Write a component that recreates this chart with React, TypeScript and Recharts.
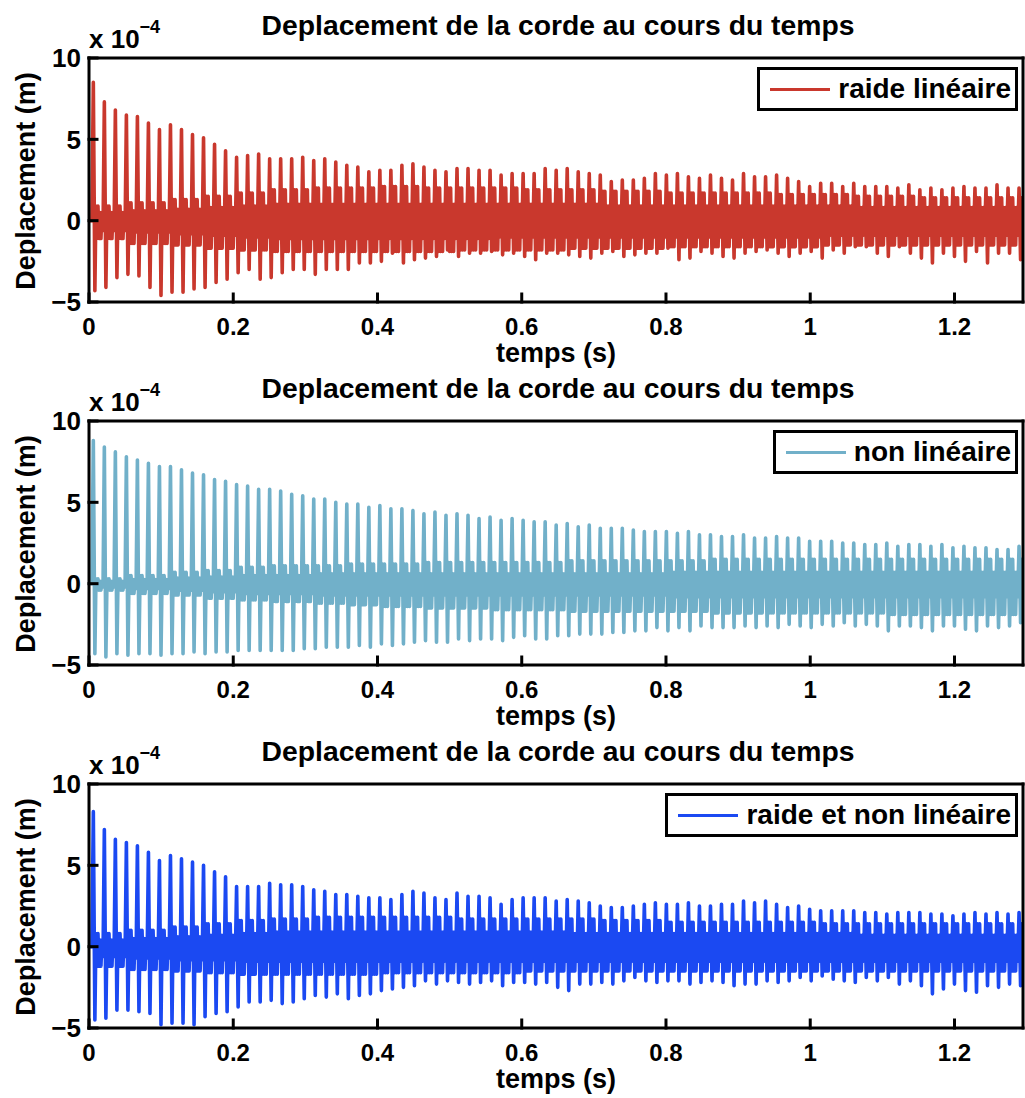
import React from 'react';
import { LineChart, Line, XAxis, YAxis, Legend } from 'recharts';

// time grid: one big spike every ~0.0153 s
const PERIOD = 0.01528;
const FIRST_PEAK = 0.006;
const BAND_STEP = 0.05; // band levels were read every 0.05 s
const CYCLE_STEPS = [0, 0.14, 0.24, 0.33, 0.42, 0.51, 0.6, 0.69, 0.78, 0.88];
const LEAD_T = [0, 0.004];
const LEAD_Y = [0, 0];

const xTicks = [0, 0.2, 0.4, 0.6, 0.8, 1, 1.2];
const yTicks = [-5, 0, 5, 10];
const X_MAX = 1.295;

// --- raide linéaire (x 1e-4 m) ---
const redPeaks = [
  8.5, 7.3, 6.8, 6.5, 6.4, 6.0, 5.6, 5.9, 5.6, 5.3, 5.1, 4.7, 4.3, 3.9, 4.0, 4.1, 3.8, 3.8, 3.8,
  3.9, 3.7, 3.8, 3.6, 3.4, 3.3, 3.0, 3.1, 3.1, 3.4, 3.5, 3.3, 3.1, 3.0, 3.2, 3.2, 3.1, 3.1, 2.8, 2.9,
  2.9, 2.9, 3.2, 3.1, 3.2, 3.0, 2.9, 2.8, 2.4,
  2.5, 2.5, 2.6, 2.9, 2.8, 2.9, 2.7, 2.6, 2.8, 2.6, 2.5, 2.9, 2.7, 2.7, 2.8, 2.6, 2.4, 2.1, 2.3,
  2.3, 2.1, 2.3, 2.1, 2.1, 2.1, 2.0, 2.2, 1.9, 2.0, 1.9, 2.0, 2.1, 2.0, 2.0, 2.2, 2.0, 2.0,
];
const redTroughs = [
  -4.3, -4.1, -3.5, -3.3, -3.4, -4.1, -4.6, -4.4, -4.4, -4.2, -4.1, -3.8, -3.6, -3.2, -3.0, -3.6, -3.5, -3.2, -3.0,
  -3.0, -3.3, -3.0, -3.0, -3.0, -2.6, -2.6, -2.5, -2.0, -2.6, -2.4, -2.3, -2.2, -1.8, -2.2, -2.0, -2.0, -1.9,
  -2.1, -2.0, -2.2, -2.4, -2.0, -2.0, -2.1, -2.2, -2.3, -2.0,
  -1.9, -2.2, -2.1, -2.0, -2.0, -1.7, -2.4, -2.3, -1.9, -2.0, -2.2, -2.3, -2.0, -1.9, -1.8, -2.0, -2.2, -2.0,
  -1.9, -2.3, -1.8, -2.0, -1.6, -1.6, -2.0, -2.2, -1.6, -2.0, -2.3, -2.6, -2.0, -2.2, -2.5, -1.9, -2.6, -2.0,
  -2.0, -2.4,
];
const redBandHi = [0.9, 1.1, 1.3, 1.5, 1.7, 1.9, 2.0, 2.0, 2.1, 2.0, 2.0, 2.0, 1.9, 1.9, 1.8, 1.8, 1.7, 1.7, 1.7, 1.6, 1.6, 1.5, 1.5, 1.4, 1.4, 1.4];
const redBandLo = [-1.1, -1.4, -1.5, -1.7, -1.8, -1.9, -1.9, -1.9, -1.9, -1.9, -1.8, -1.8, -1.8, -1.7, -1.7, -1.7, -1.6, -1.6, -1.6, -1.6, -1.5, -1.5, -1.5, -1.5, -1.5, -1.5];
const redInnerHi = [0.5, 0.6, 0.7, 0.8, 0.9, 1.0, 1.0, 1.0, 1.0, 1.0, 1.0, 1.0, 1.0, 1.0, 0.9, 0.9, 0.9, 0.9, 0.9, 0.9, 0.9, 0.8, 0.8, 0.8, 0.8, 0.8];
const redInnerLo = [-0.6, -0.7, -0.8, -0.9, -1.0, -1.1, -1.1, -1.1, -1.1, -1.1, -1.1, -1.0, -1.0, -1.0, -1.0, -1.0, -1.0, -1.0, -1.0, -1.0, -0.9, -0.9, -0.9, -0.9, -0.9, -0.9];

// --- non linéaire ---
const cyanPeaks = [
  8.8, 8.4, 8.1, 7.8, 7.6, 7.4, 7.2, 7.2, 7.0, 6.8, 6.7, 6.4, 6.3, 6.1, 6.0, 5.8, 5.8, 5.7, 5.5, 5.4, 5.2,
  5.2, 5.0, 4.9, 4.9, 4.7, 4.8, 4.6, 4.6, 4.5, 4.3, 4.4, 4.2, 4.3, 4.2, 4.0, 4.1, 3.9, 4.0, 3.9, 3.8,
  3.8, 3.6, 3.7, 3.5, 3.6, 3.4, 3.4, 3.4, 3.3, 3.2, 3.2, 3.2,
  3.1, 3.2, 3.0, 3.0, 2.9, 2.9, 3.0, 2.8, 2.8, 2.9, 2.8, 2.8, 2.6, 2.6, 2.6, 2.5, 2.5, 2.4, 2.4, 2.5,
  2.3, 2.4, 2.4, 2.3, 2.4, 2.2, 2.3, 2.2, 2.2, 2.1, 2.1, 2.3,
];
const cyanTroughs = [
  -4.3, -4.5, -4.3, -4.4, -4.3, -4.3, -4.4, -4.3, -4.3, -4.2, -4.3, -4.2, -4.2, -4.1, -4.1, -4.1, -4.1, -4.1,
  -4.1, -4.0, -4.0,
  -3.9, -3.9, -3.9, -3.8, -3.9, -3.7, -3.8, -3.7, -3.6, -3.5, -3.6, -3.6, -3.4, -3.5, -3.4, -3.4, -3.5, -3.3,
  -3.2, -3.4, -3.4, -3.2, -3.2, -3.1, -3.1, -3.1, -3.0, -3.0, -2.9, -2.9, -2.7, -2.9,
  -2.7, -2.9, -2.6, -2.7, -2.7, -2.7, -2.6, -2.7, -2.6, -2.7, -2.5, -2.6, -2.7, -2.5, -2.6, -2.4, -2.6, -2.5,
  -2.6, -2.9, -2.6, -2.6, -2.7, -2.9, -2.6, -2.6, -2.8, -2.9, -2.6, -2.7, -2.6, -2.4,
];
const cyanBandHi = [0.3, 0.5, 0.7, 0.8, 1.0, 1.1, 1.1, 1.2, 1.2, 1.3, 1.3, 1.3, 1.3, 1.4, 1.4, 1.4, 1.4, 1.5, 1.5, 1.5, 1.5, 1.5, 1.5, 1.5, 1.5, 1.5];
const cyanBandLo = [-0.4, -0.6, -0.7, -0.9, -1.0, -1.1, -1.2, -1.3, -1.4, -1.5, -1.5, -1.6, -1.6, -1.7, -1.7, -1.7, -1.7, -1.8, -1.8, -1.8, -1.8, -1.8, -1.9, -1.9, -1.9, -1.9];
const cyanInnerHi = [0.15, 0.25, 0.35, 0.4, 0.5, 0.5, 0.6, 0.6, 0.6, 0.6, 0.6, 0.6, 0.6, 0.6, 0.6, 0.6, 0.7, 0.7, 0.7, 0.7, 0.7, 0.7, 0.7, 0.7, 0.7, 0.7];
const cyanInnerLo = [-0.2, -0.3, -0.4, -0.5, -0.6, -0.6, -0.7, -0.7, -0.7, -0.7, -0.7, -0.7, -0.7, -0.7, -0.7, -0.7, -0.8, -0.8, -0.8, -0.8, -0.8, -0.8, -0.8, -0.8, -0.8, -0.8];

// --- raide et non linéaire ---
const bluePeaks = [
  8.3, 7.2, 6.6, 6.4, 6.2, 5.8, 5.3, 5.6, 5.4, 5.2, 5.0, 4.6, 4.3, 3.7, 3.7, 3.7, 3.9, 3.8, 3.8, 3.7, 3.5,
  3.4, 3.2, 3.2, 3.1, 3.0, 3.0, 2.9, 3.2, 3.4, 3.3, 3.0, 2.9, 3.3, 3.1, 3.1, 3.0, 2.6, 2.9, 3.0, 3.0,
  3.0, 2.8, 2.9, 2.8, 2.7, 2.5, 2.4, 2.4, 2.5, 2.6, 2.7, 2.6,
  2.6, 2.7, 2.5, 2.5, 2.6, 2.6, 2.8, 2.7, 2.8, 2.6, 2.4, 2.5, 2.3, 2.2, 2.2, 2.2, 2.2, 2.1, 2.1, 2.0,
  2.1, 2.1, 2.1, 2.0, 2.0, 1.9, 2.0, 2.1, 2.0, 2.1, 2.0, 2.1,
];
const blueTroughs = [
  -4.5, -4.4, -3.9, -3.9, -4.0, -4.1, -4.8, -4.7, -4.7, -4.8, -4.3, -4.1, -4.0, -3.7, -3.4, -3.4, -3.3, -3.5,
  -3.4, -3.2, -3.0,
  -3.1, -2.9, -3.2, -3.0, -2.9, -2.7, -2.6, -2.5, -2.4, -2.1, -2.3, -2.1, -2.2, -2.3, -2.2, -2.1, -2.4, -2.2,
  -2.2, -2.3, -2.2, -2.5, -2.7, -2.3, -2.3, -2.2, -2.3, -2.1, -1.9, -2.1, -2.2, -2.1,
  -2.1, -2.3, -2.2, -2.1, -2.2, -2.4, -2.3, -2.3, -2.1, -2.2, -2.1, -1.9, -2.1, -1.8, -2.0, -2.1, -2.2, -1.9,
  -2.1, -1.9, -2.3, -2.1, -2.4, -2.9, -2.6, -2.3, -2.7, -2.8, -2.4, -2.5, -2.3, -2.4,
];
const blueBandHi = [0.8, 1.0, 1.2, 1.4, 1.6, 1.7, 1.8, 1.8, 1.8, 1.8, 1.7, 1.7, 1.7, 1.7, 1.6, 1.6, 1.5, 1.5, 1.5, 1.5, 1.4, 1.4, 1.4, 1.4, 1.4, 1.4];
const blueBandLo = [-1.2, -1.4, -1.5, -1.6, -1.7, -1.7, -1.7, -1.7, -1.6, -1.6, -1.6, -1.6, -1.5, -1.5, -1.5, -1.5, -1.5, -1.5, -1.5, -1.5, -1.5, -1.5, -1.5, -1.5, -1.5, -1.5];
const blueInnerHi = [0.4, 0.5, 0.6, 0.7, 0.8, 0.9, 0.9, 0.9, 0.9, 0.9, 0.9, 0.9, 0.9, 0.8, 0.8, 0.8, 0.8, 0.8, 0.8, 0.8, 0.8, 0.7, 0.7, 0.7, 0.7, 0.7];
const blueInnerLo = [-0.6, -0.7, -0.8, -0.8, -0.9, -0.9, -0.9, -0.9, -0.9, -0.9, -0.9, -0.9, -0.9, -0.9, -0.9, -0.9, -0.9, -0.9, -0.9, -0.9, -0.9, -0.9, -0.9, -0.9, -0.9, -0.9];

const FONT = '"Liberation Sans", Arial, Helvetica, sans-serif';
const TITLE = 'Deplacement de la corde au cours du temps';

interface Pt { t: number; y: number }

function buildSeries(peaks: number[], troughs: number[], bandHi: number[], bandLo: number[], innerHi: number[], innerLo: number[]): Pt[] {
  const pts: Pt[] = LEAD_T.map((t, i) => ({ t, y: LEAD_Y[i] }));
  peaks.forEach((p, k) => {
    const t0 = FIRST_PEAK + k * PERIOD;
    const b = Math.min(bandHi.length - 1, Math.floor(t0 / BAND_STEP));
    // spike up, spike down, then the ringing band around zero
    const vals = [p, troughs[k], bandHi[b], bandLo[b], bandHi[b], bandLo[b], innerHi[b], bandLo[b], innerHi[b], innerLo[b]];
    CYCLE_STEPS.forEach((s, j) => pts.push({ t: t0 + s * PERIOD, y: vals[j] }));
  });
  return pts;
}

const panels = [
  { name: 'raide linéaire', color: '#C9382D', data: buildSeries(redPeaks, redTroughs, redBandHi, redBandLo, redInnerHi, redInnerLo) },
  { name: 'non linéaire', color: '#71B0C9', data: buildSeries(cyanPeaks, cyanTroughs, cyanBandHi, cyanBandLo, cyanInnerHi, cyanInnerLo) },
  { name: 'raide et non linéaire', color: '#1B49F2', data: buildSeries(bluePeaks, blueTroughs, blueBandHi, blueBandLo, blueInnerHi, blueInnerLo) },
];

const PANEL_H = 363;
const axisStroke = { stroke: '#000', strokeWidth: 3, strokeLinecap: 'square' as const };
const xTickFont = { fill: '#000', fontSize: 24, fontWeight: 700, fontFamily: FONT };
const yTickFont = { fill: '#000', fontSize: 26, fontWeight: 700, fontFamily: FONT };
const fmtY = (v: number) => (v < 0 ? '\u2212' + Math.abs(v) : String(v));

const LegendBox = (props: any) => {
  const item = props.payload && props.payload[0];
  if (!item) return null;
  return (
    <div style={{ display: 'flex', alignItems: 'center', height: 44, boxSizing: 'border-box', border: '3px solid #000', background: '#fff', padding: '0 4px 0 10px' }}>
      <span style={{ display: 'inline-block', width: 60, height: 3, background: item.color, marginRight: 8 }} />
      <span style={{ font: `bold 28px ${FONT}`, color: '#000', lineHeight: '38px' }}>{item.value}</span>
    </div>
  );
};

function Panel({ name, color, data, top }: { name: string; color: string; data: Pt[]; top: number }) {
  return (
    <div style={{ position: 'absolute', left: 0, top, width: 1025, height: PANEL_H }}>
      <LineChart width={1025} height={PANEL_H} data={data} margin={{ top: 57, right: 1, bottom: 0, left: 0 }}>
        <XAxis dataKey="t" type="number" domain={[0, X_MAX]} allowDataOverflow ticks={xTicks} height={61}
          axisLine={axisStroke} tickLine={axisStroke} tickSize={-8} tickMargin={24} tick={xTickFont} />
        <XAxis xAxisId="top" orientation="top" type="number" domain={[0, X_MAX]} allowDataOverflow ticks={xTicks} height={1}
          axisLine={axisStroke} tickLine={axisStroke} tickSize={-8} tick={false} />
        <YAxis type="number" domain={[-5, 10]} allowDataOverflow ticks={yTicks} width={89} interval={0}
          axisLine={axisStroke} tickLine={axisStroke} tickSize={-8} tickMargin={16} tick={yTickFont} tickFormatter={fmtY} />
        <YAxis yAxisId="right" orientation="right" type="number" domain={[-5, 10]} allowDataOverflow ticks={yTicks} width={1}
          axisLine={axisStroke} tickLine={axisStroke} tickSize={-8} tick={false} />
        <Legend layout="horizontal" align="center" verticalAlign="middle" content={LegendBox}
          wrapperStyle={{ top: 67, right: 7, left: 'auto', bottom: 'auto', width: 'auto' }} />
        <Line type="linear" dataKey="y" name={name} stroke={color} strokeWidth={3.6} strokeLinejoin="round"
          dot={false} activeDot={false} isAnimationActive={false} />
      </LineChart>
    </div>
  );
}

export default function App() {
  return (
    <div style={{ position: 'absolute', left: 0, top: 0, width: 1025, height: 1098, background: '#fff', overflow: 'hidden' }}>
      {panels.map((p, i) => (
        <Panel key={p.name} name={p.name} color={p.color} data={p.data} top={i * PANEL_H} />
      ))}
      <svg width={1025} height={1098} style={{ position: 'absolute', left: 0, top: 0, pointerEvents: 'none' }}
        fontFamily={FONT} fontWeight={700} fill="#000">
        {panels.map((p, i) => {
          const o = i * PANEL_H;
          return (
            <g key={p.name}>
              <text x={558} y={35 + o} fontSize={28.3} textAnchor="middle">{TITLE}</text>
              <text x={89} y={48 + o} fontSize={26}>x 10<tspan dy={-15} fontSize={18}>{'\u22124'}</tspan></text>
              <text transform={`translate(35, ${181 + o}) rotate(-90)`} fontSize={27} textAnchor="middle">Deplacement (m)</text>
              <text x={556} y={362 + o} fontSize={27} textAnchor="middle">temps (s)</text>
            </g>
          );
        })}
      </svg>
    </div>
  );
}
